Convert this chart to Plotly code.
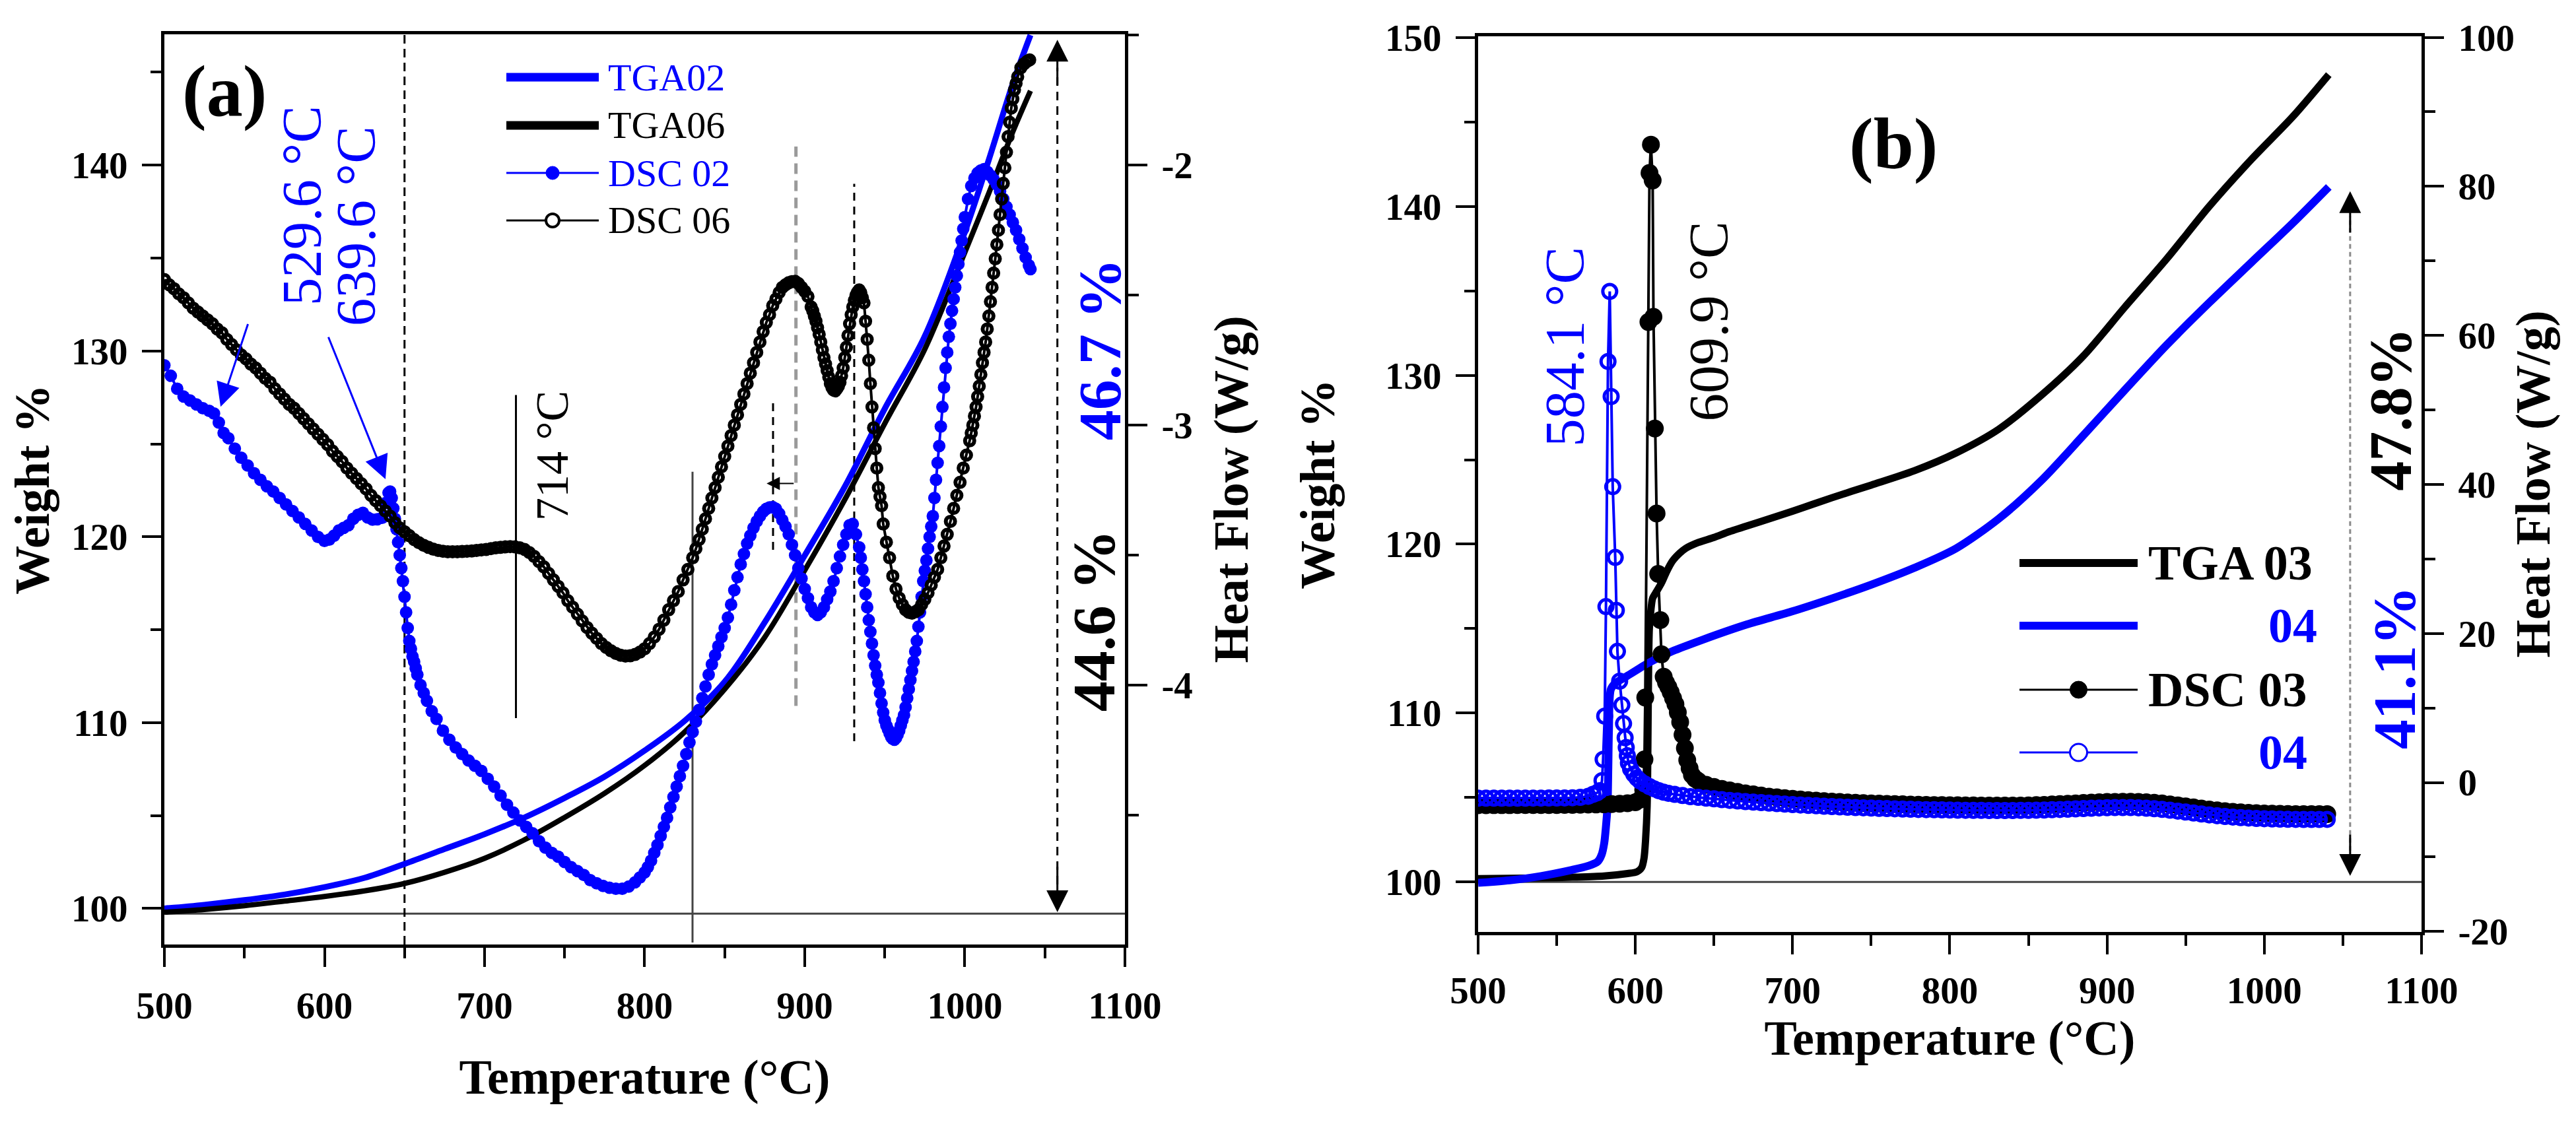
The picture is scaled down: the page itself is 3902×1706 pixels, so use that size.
import plotly.graph_objects as go

FONT = "Liberation Serif"
BLUE = "#0000ff"
BLACK = "#000000"

# ---------------- panel (a) data ----------------
a_tga02_T = [500, 525, 550, 575, 600, 625, 650, 675, 700, 725, 750, 775, 800, 825, 850, 875, 900, 925, 950, 975, 1000, 1015, 1030, 1041]
a_tga02_w = [100.0, 100.2, 100.45, 100.75, 101.15, 101.65, 102.4, 103.2, 104.0, 104.9, 105.95, 107.1, 108.5, 110.1, 112.2, 115.4, 119.0, 122.7, 126.9, 130.8, 136.4, 140.3, 144.4, 147.0]

a_tga06_T = [500, 525, 550, 575, 600, 625, 650, 675, 700, 725, 750, 775, 800, 825, 850, 875, 900, 925, 950, 975, 1000, 1015, 1030, 1041]
a_tga06_w = [99.8, 99.95, 100.15, 100.4, 100.65, 100.95, 101.35, 101.95, 102.7, 103.7, 104.9, 106.2, 107.7, 109.5, 111.8, 114.6, 118.2, 122.0, 126.1, 130.1, 135.3, 138.5, 141.8, 144.0]

a_dsc02_T = [500, 504, 508, 512, 516, 520, 524, 528, 531, 534, 537, 540, 544, 548, 552, 556, 560, 564, 568, 572,
             576, 580, 584, 588, 592, 596, 600, 603, 606, 609, 612, 615, 618, 621, 624, 627, 630, 633, 636, 638,
             640, 641, 642, 643, 644, 645, 646, 647, 648, 649, 650, 651, 652, 653, 654, 655, 656, 657, 658, 660,
             662, 664, 667, 670, 674, 678, 682, 686, 690, 694, 698, 702, 706, 710, 714, 718, 722, 726, 730, 734,
             738, 742, 746, 750, 754, 758, 762, 766, 770, 774, 778, 782, 786, 790, 794, 797, 800, 802, 804, 806,
             808, 810, 812, 814, 816, 818, 820, 822, 824, 826, 828, 830, 832, 834, 836, 838, 840, 842, 844, 846,
             848, 850, 852, 854, 856, 858, 860, 862, 864, 866, 868, 870, 872, 874, 876, 878, 880, 882, 884, 886,
             888, 890, 892, 894, 896, 898, 900, 902, 904, 906, 908, 910, 912, 914, 916, 918, 920, 922, 924, 926,
             928, 930, 932, 934, 935, 936, 937, 938, 939, 940, 941, 942, 943, 944, 945, 946, 947, 948, 949, 950,
             951, 952, 953, 954, 955, 956, 957, 958, 959, 960, 961, 962, 963, 964, 965, 966, 967, 968, 969, 970,
             971, 972, 973, 974, 975, 976, 977, 978, 979, 980, 981, 982, 983, 984, 985, 986, 987, 988, 989, 990,
             991, 992, 993, 994, 995, 996, 997, 998, 999, 1000, 1002, 1004, 1006, 1008, 1010, 1012, 1014, 1016, 1018, 1020,
             1022, 1024, 1026, 1028, 1030, 1032, 1034, 1036, 1038, 1040, 1041]
a_dsc02_hf = [-2.77, -2.81, -2.86, -2.89, -2.905, -2.92, -2.935, -2.945, -2.955, -2.99, -3.03, -3.05, -3.09, -3.125, -3.155, -3.185, -3.21, -3.235, -3.255, -3.28,
              -3.305, -3.33, -3.355, -3.38, -3.405, -3.43, -3.445, -3.44, -3.425, -3.405, -3.395, -3.385, -3.36, -3.345, -3.337, -3.355, -3.363, -3.362, -3.356, -3.30,
              -3.26, -3.255, -3.28, -3.32, -3.36, -3.40, -3.45, -3.50, -3.55, -3.60, -3.66, -3.72, -3.78, -3.83, -3.86, -3.89, -3.91, -3.935, -3.96, -4.00,
              -4.03, -4.06, -4.10, -4.13, -4.175, -4.21, -4.24, -4.265, -4.29, -4.31, -4.33, -4.36, -4.39, -4.425, -4.46, -4.49, -4.52, -4.545, -4.57, -4.60,
              -4.625, -4.645, -4.66, -4.68, -4.70, -4.715, -4.73, -4.75, -4.762, -4.772, -4.779, -4.783, -4.783, -4.775, -4.758, -4.74, -4.72, -4.70, -4.675, -4.645,
              -4.615, -4.58, -4.545, -4.51, -4.47, -4.43, -4.39, -4.35, -4.31, -4.265, -4.22, -4.18, -4.14, -4.095, -4.05, -4.005, -3.96, -3.92, -3.885, -3.85,
              -3.815, -3.78, -3.74, -3.69, -3.635, -3.585, -3.535, -3.495, -3.455, -3.425, -3.395, -3.37, -3.35, -3.333, -3.322, -3.316, -3.315, -3.322, -3.34, -3.365,
              -3.39, -3.42, -3.46, -3.50, -3.55, -3.59, -3.63, -3.665, -3.70, -3.72, -3.73, -3.72, -3.70, -3.67, -3.64, -3.60, -3.55, -3.505, -3.46, -3.42,
              -3.385, -3.38, -3.42, -3.47, -3.51, -3.555, -3.60, -3.65, -3.70, -3.75, -3.795, -3.84, -3.885, -3.925, -3.96, -3.99, -4.03, -4.07, -4.105, -4.135,
              -4.155, -4.17, -4.185, -4.20, -4.207, -4.21, -4.203, -4.19, -4.175, -4.155, -4.135, -4.115, -4.085, -4.05, -4.015, -3.98, -3.945, -3.91, -3.87, -3.83,
              -3.775, -3.72, -3.66, -3.60, -3.56, -3.52, -3.475, -3.43, -3.39, -3.35, -3.28, -3.21, -3.145, -3.08, -3.005, -2.93, -2.855, -2.78, -2.72, -2.66,
              -2.61, -2.56, -2.515, -2.47, -2.425, -2.38, -2.335, -2.29, -2.245, -2.20, -2.13, -2.08, -2.05, -2.03, -2.02, -2.015, -2.025, -2.04, -2.055, -2.075,
              -2.10, -2.13, -2.16, -2.19, -2.22, -2.25, -2.285, -2.32, -2.355, -2.385, -2.40]

a_dsc06_T = [500, 503, 506, 509, 512, 515, 518, 521, 524, 527, 530, 533, 536, 539, 542, 545, 548, 551, 554, 557,
             560, 563, 566, 569, 572, 575, 578, 581, 584, 587, 590, 593, 596, 599, 602, 605, 608, 611, 614, 617,
             620, 623, 626, 629, 632, 635, 638, 641, 644, 647, 650, 653, 656, 659, 662, 665, 668, 671, 674, 677,
             680, 683, 686, 689, 692, 695, 698, 701, 704, 707, 710, 713, 716, 719, 722, 725, 728, 731, 734, 737,
             740, 743, 746, 749, 752, 755, 758, 761, 764, 767, 770, 773, 776, 779, 782, 785, 788, 791, 794, 797,
             800, 803, 806, 809, 812, 815, 818, 821, 824, 827, 830, 832, 834, 836, 838, 840, 842, 844, 846, 848,
             850, 852, 854, 856, 858, 860, 862, 864, 866, 868, 870, 872, 874, 876, 878, 880, 882, 884, 886, 888,
             890, 892, 894, 896, 898, 900, 902, 904, 905, 906, 907, 908, 909, 910, 911, 912, 913, 914, 915, 916,
             917, 918, 919, 920, 921, 922, 923, 924, 925, 926, 927, 928, 929, 930, 931, 932, 933, 934, 935, 936,
             937, 938, 939, 940, 941, 942, 943, 944, 945, 946, 947, 948, 949, 951, 953, 955, 957, 959, 961, 963,
             965, 967, 969, 971, 973, 975, 977, 979, 981, 983, 985, 987, 989, 991, 993, 995, 997, 999, 1001, 1003,
             1004, 1005, 1006, 1007, 1008, 1009, 1010, 1011, 1012, 1013, 1014, 1015, 1016, 1017, 1018, 1019, 1020, 1021, 1022, 1023,
             1024, 1025, 1026, 1027, 1028, 1029, 1030, 1031, 1032, 1033, 1035, 1037, 1039, 1040.5]
a_dsc06_hf = [-2.44, -2.46, -2.475, -2.495, -2.51, -2.53, -2.55, -2.565, -2.58, -2.595, -2.61, -2.63, -2.645, -2.67, -2.69, -2.71, -2.73, -2.745, -2.765, -2.78,
              -2.80, -2.82, -2.835, -2.86, -2.88, -2.90, -2.92, -2.935, -2.955, -2.975, -2.995, -3.015, -3.035, -3.055, -3.075, -3.10, -3.12, -3.14, -3.165, -3.185,
              -3.205, -3.225, -3.245, -3.27, -3.29, -3.31, -3.33, -3.35, -3.375, -3.395, -3.41, -3.425, -3.44, -3.452, -3.462, -3.47, -3.477, -3.482, -3.485, -3.487,
              -3.487, -3.487, -3.486, -3.485, -3.484, -3.482, -3.48, -3.478, -3.475, -3.472, -3.47, -3.468, -3.467, -3.468, -3.472, -3.478, -3.49, -3.505, -3.525, -3.545,
              -3.57, -3.595, -3.62, -3.645, -3.675, -3.70, -3.727, -3.753, -3.778, -3.80, -3.82, -3.84, -3.855, -3.868, -3.878, -3.885, -3.888, -3.887, -3.882, -3.873,
              -3.86, -3.84, -3.815, -3.785, -3.75, -3.71, -3.675, -3.64, -3.595, -3.555, -3.51, -3.475, -3.44, -3.40, -3.36, -3.32, -3.28, -3.24, -3.20, -3.16,
              -3.12, -3.08, -3.04, -3.00, -2.96, -2.92, -2.88, -2.84, -2.80, -2.76, -2.72, -2.68, -2.64, -2.605, -2.575, -2.54, -2.515, -2.49, -2.47, -2.46,
              -2.452, -2.448, -2.447, -2.455, -2.47, -2.485, -2.505, -2.545, -2.56, -2.58, -2.60, -2.625, -2.65, -2.68, -2.71, -2.74, -2.765, -2.79, -2.815, -2.84,
              -2.855, -2.865, -2.868, -2.86, -2.85, -2.835, -2.81, -2.78, -2.74, -2.70, -2.655, -2.61, -2.575, -2.545, -2.52, -2.50, -2.488, -2.48, -2.49, -2.51,
              -2.53, -2.60, -2.67, -2.75, -2.84, -2.93, -3.01, -3.09, -3.165, -3.24, -3.275, -3.31, -3.38, -3.45, -3.51, -3.58, -3.63, -3.665, -3.69, -3.71,
              -3.72, -3.723, -3.718, -3.71, -3.69, -3.67, -3.645, -3.615, -3.585, -3.555, -3.51, -3.465, -3.42, -3.37, -3.32, -3.27, -3.22, -3.165, -3.115, -3.06,
              -3.03, -3.00, -2.965, -2.93, -2.89, -2.85, -2.805, -2.76, -2.72, -2.68, -2.63, -2.58, -2.525, -2.47, -2.415, -2.36, -2.305, -2.25, -2.19, -2.13,
              -2.07, -2.01, -1.95, -1.89, -1.835, -1.78, -1.745, -1.71, -1.685, -1.66, -1.625, -1.61, -1.60, -1.595]

# ---------------- panel (b) data ----------------
b_tga03_T = [500, 520, 540, 560, 580, 595, 601, 604, 605.5, 606.5, 607.5, 608.2, 608.9, 610, 611, 613.5, 616.6, 620, 623.6, 628,
             632, 640, 650, 660, 680, 700, 725, 750, 777.5, 804, 831, 858, 885, 911, 938, 965, 992, 1018, 1041]
b_tga03_w = [100.2, 100.22, 100.24, 100.28, 100.35, 100.5, 100.6, 100.85, 101.4, 102.5, 104.5, 110.5, 115.0, 116.2, 116.8, 117.2, 117.7, 118.4, 119.0, 119.45,
             119.75, 120.1, 120.4, 120.75, 121.35, 121.95, 122.75, 123.5, 124.35, 125.4, 126.8, 128.8, 131.15, 134.0, 136.9, 140.0, 142.8, 145.3, 147.8]

b_tga04_T = [500, 520, 540, 559, 570, 576, 578.5, 580.2, 581.5, 582.3, 582.8, 583.2, 584.4, 587, 594, 608, 622, 643, 671, 699,
             727, 750, 777.5, 804, 831, 858, 885, 911, 938, 965, 992, 1018, 1041]
b_tga04_w = [99.95, 100.1, 100.35, 100.7, 100.95, 101.2, 101.6, 102.3, 103.5, 104.5, 106.8, 109.0, 111.4, 111.75, 112.15, 112.95, 113.6, 114.35, 115.25, 116.0,
             116.85, 117.6, 118.6, 119.75, 121.5, 123.75, 126.45, 129.1, 131.8, 134.3, 136.7, 139.0, 141.15]

b_dsc03_T = [500, 505, 510, 515, 520, 525, 530, 535, 540, 545, 550, 555, 560, 565, 570, 575, 580, 585, 590, 595,
             600, 603, 605, 605.8, 606.3, 608.3, 609, 609.9, 611, 611.5, 612.4, 613.5, 614.5, 615.9, 616.6, 618, 619.5, 621, 622.5, 624,
             625.5, 627, 628.5, 630, 631.5, 633, 634.5, 636, 638, 640, 645, 650, 655, 660, 665, 670, 675, 680, 685, 690,
             695, 700, 705, 710, 715, 720, 725, 730, 735, 740, 745, 750, 755, 760, 765, 770, 775, 780, 785, 790,
             795, 800, 805, 810, 815, 820, 825, 830, 835, 840, 845, 850, 855, 860, 865, 870, 875, 880, 885, 890,
             895, 900, 905, 910, 915, 920, 925, 930, 935, 940, 945, 950, 955, 960, 965, 970, 975, 980, 985, 990,
             995, 1000, 1005, 1010, 1015, 1020, 1025, 1030, 1035, 1040]
b_dsc03_hf = [-3.05, -3.05, -3.04, -3.04, -3.04, -3.03, -3.03, -3.03, -3.02, -3.02, -3.02, -3.01, -3.0, -2.98, -2.97, -2.95, -2.93, -2.9, -2.85, -2.78,
              -2.65, -2.3, -1.0, 3.1, 11.4, 61.8, 81.8, 85.6, 80.8, 62.5, 47.5, 36.1, 28.0, 21.8, 17.2, 14.2, 13.4, 12.8, 12.1, 11.3,
              10.5, 9.4, 8.1, 6.4, 4.6, 3.0, 1.9, 1.0, 0.5, 0.2, -0.3, -0.6, -0.85, -1.05, -1.25, -1.45, -1.6, -1.75, -1.9, -2.0,
              -2.1, -2.2, -2.28, -2.36, -2.43, -2.5, -2.56, -2.62, -2.67, -2.72, -2.76, -2.8, -2.84, -2.87, -2.9, -2.93, -2.96, -2.98, -3.0, -3.02,
              -3.03, -3.05, -3.06, -3.07, -3.08, -3.09, -3.1, -3.1, -3.1, -3.1, -3.09, -3.07, -3.04, -3.0, -2.95, -2.9, -2.85, -2.8, -2.75, -2.7,
              -2.66, -2.62, -2.6, -2.58, -2.58, -2.6, -2.65, -2.72, -2.82, -2.94, -3.07, -3.21, -3.35, -3.49, -3.62, -3.74, -3.85, -3.94, -4.01, -4.07,
              -4.12, -4.16, -4.19, -4.21, -4.23, -4.24, -4.25, -4.25, -4.25, -4.24]

b_dsc04_T = [500, 505, 510, 515, 520, 525, 530, 535, 540, 545, 550, 555, 560, 565, 570, 573, 575.5, 577.4, 578.8, 579.5,
             580.5, 581.3, 582.6, 583.7, 584.6, 585.6, 587.2, 587.9, 588.6, 590, 591.4, 592.5, 593.5, 594.2, 594.9, 595.6, 597, 599, 601, 603,
             606, 609, 612, 615, 618, 621, 625, 630, 635, 640, 645, 650, 655, 660, 665, 670, 675, 680, 685, 690,
             695, 700, 705, 710, 715, 720, 725, 730, 735, 740, 745, 750, 755, 760, 765, 770, 775, 780, 785, 790,
             795, 800, 805, 810, 815, 820, 825, 830, 835, 840, 845, 850, 855, 860, 865, 870, 875, 880, 885, 890,
             895, 900, 905, 910, 915, 920, 925, 930, 935, 940, 945, 950, 955, 960, 965, 970, 975, 980, 985, 990,
             995, 1000, 1005, 1010, 1015, 1020, 1025, 1030, 1035, 1040]
b_dsc04_hf = [-2.1, -2.1, -2.1, -2.1, -2.1, -2.1, -2.1, -2.09, -2.09, -2.08, -2.08, -2.07, -2.05, -2.0, -1.85, -1.6, -1.4, -1.1, 0.25, 3.1,
              8.9, 23.6, 56.5, 65.9, 51.8, 39.7, 30.2, 23.1, 17.6, 13.6, 10.4, 7.9, 6.0, 4.7, 3.6, 2.6, 1.8, 1.1, 0.6, 0.2,
              -0.2, -0.55, -0.85, -1.1, -1.3, -1.45, -1.6, -1.75, -1.9, -2.0, -2.1, -2.2, -2.3, -2.4, -2.48, -2.56, -2.63, -2.7, -2.77, -2.84,
              -2.9, -2.96, -3.02, -3.08, -3.13, -3.18, -3.23, -3.28, -3.32, -3.36, -3.4, -3.44, -3.47, -3.5, -3.53, -3.56, -3.59, -3.62, -3.64, -3.66,
              -3.68, -3.7, -3.72, -3.73, -3.74, -3.75, -3.76, -3.76, -3.76, -3.76, -3.75, -3.74, -3.72, -3.69, -3.66, -3.62, -3.58, -3.54, -3.5, -3.46,
              -3.42, -3.39, -3.37, -3.36, -3.37, -3.4, -3.45, -3.52, -3.61, -3.72, -3.84, -3.97, -4.1, -4.23, -4.35, -4.46, -4.56, -4.64, -4.71, -4.77,
              -4.82, -4.86, -4.89, -4.92, -4.94, -4.95, -4.96, -4.96, -4.96, -4.95]

# ---------------- ticks ----------------
x_tickvals = [500, 600, 700, 800, 900, 1000, 1100]
x_ticktext = ["500", "600", "700", "800", "900", "1000", "1100"]
a_w_tickvals = [100, 110, 120, 130, 140]
a_w_ticktext = ["100", "110", "120", "130", "140"]
a_hf_tickvals = [-5, -4, -3, -2]
a_hf_ticktext = ["-5", "-4", "-3", "-2"]
b_w_tickvals = [100, 110, 120, 130, 140, 150]
b_w_ticktext = ["100", "110", "120", "130", "140", "150"]
b_hf_tickvals = [-20, 0, 20, 40, 60, 80, 100]
b_hf_ticktext = ["-20", "0", "20", "40", "60", "80", "100"]

# ---------------- reference marks (data units) ----------------
a_base_w = 99.72
a_onset_T = 650
a_vguides = [  # (T, w_from, w_to, color, width, dash)
    (894.5, 110.9, 141.0, "#9a9a9a", 5, "16px,10px"),
    (930.9, 109.0, 139.0, BLACK, 3, "12px,9px"),
    (880.2, 119.3, 127.4, BLACK, 3, "12px,9px"),
]
a_vsolid = [(719.6, 110.25, 127.63, BLACK), (829.9, 98.17, 123.5, "#444444")]
a_span_T, a_span_lo, a_span_hi = 1057.8, 99.8, 146.75
b_base_w = 100.0
b_span_T, b_span_lo, b_span_hi = 1054.6, 100.36, 140.9

# ---------------- page geometry ----------------
WP, HP = 3886, 1690
ML, MR, MT, MB = 241, 226, 44, 267


def px(ox):
    return (ox - 8 - ML) / (WP - ML - MR)


def py(oy):
    return (HP - MB - (oy - 8)) / (HP - MT - MB)


fig = go.Figure()

# panel (a) traces
fig.add_trace(go.Scatter(x=a_tga02_T, y=a_tga02_w, mode="lines", xaxis="x", yaxis="y",
                         line=dict(color=BLUE, width=9, shape="spline"), name="TGA02"))
fig.add_trace(go.Scatter(x=a_tga06_T, y=a_tga06_w, mode="lines", xaxis="x", yaxis="y",
                         line=dict(color=BLACK, width=8, shape="spline"), name="TGA06"))
fig.add_trace(go.Scatter(x=a_dsc02_T, y=a_dsc02_hf, mode="lines+markers", xaxis="x", yaxis="y2",
                         line=dict(color=BLUE, width=4),
                         marker=dict(symbol="circle", size=19, color=BLUE, line=dict(width=0)), name="DSC 02"))
fig.add_trace(go.Scatter(x=a_dsc06_T, y=a_dsc06_hf, mode="lines+markers", xaxis="x", yaxis="y2",
                         line=dict(color=BLACK, width=4),
                         marker=dict(symbol="circle-open", size=14, color=BLACK, line=dict(width=6, color=BLACK)),
                         name="DSC 06"))

# panel (b) traces
fig.add_trace(go.Scatter(x=b_tga03_T, y=b_tga03_w, mode="lines", xaxis="x2", yaxis="y3",
                         line=dict(color=BLACK, width=11, shape="spline", smoothing=0.8), name="TGA 03"))
fig.add_trace(go.Scatter(x=b_tga04_T, y=b_tga04_w, mode="lines", xaxis="x2", yaxis="y3",
                         line=dict(color=BLUE, width=12, shape="spline", smoothing=0.8), name="TGA 04"))
fig.add_trace(go.Scatter(x=b_dsc03_T, y=b_dsc03_hf, mode="lines+markers", xaxis="x2", yaxis="y4",
                         line=dict(color=BLACK, width=4),
                         marker=dict(symbol="circle", size=27, color=BLACK, line=dict(width=0)), name="DSC 03"))
fig.add_trace(go.Scatter(x=b_dsc04_T, y=b_dsc04_hf, mode="lines+markers", xaxis="x2", yaxis="y4",
                         line=dict(color=BLUE, width=4),
                         marker=dict(symbol="circle-open", size=21, color=BLUE, line=dict(width=5, color=BLUE)),
                         name="DSC 04"))

tickfont = dict(family=FONT, size=57, color=BLACK, weight="bold")
titlefont = dict(family=FONT, size=74, color=BLACK, weight="bold")
common_axis = dict(showline=True, linecolor=BLACK, linewidth=5, ticks="outside", ticklen=29, tickwidth=4,
                   tickcolor=BLACK, showgrid=False, zeroline=False, tickfont=tickfont, automargin=False)

fig.update_layout(
    width=WP, height=HP, margin=dict(l=ML, r=MR, t=MT, b=MB),
    paper_bgcolor="white", plot_bgcolor="white", showlegend=False,
    font=dict(family=FONT, color=BLACK),
    xaxis=dict(**common_axis, domain=[0, 0.42556], range=[500, 1100], anchor="y", mirror=True,
               tickvals=x_tickvals, ticktext=x_ticktext, ticklabelstandoff=10,
               minor=dict(ticks="outside", ticklen=16, tickwidth=4, tickcolor=BLACK, dtick=50, tick0=500),
               title=dict(text="Temperature (°C)", font=titlefont, standoff=52)),
    yaxis=dict(**common_axis, domain=[0, 1], range=[98.064, 147.04], anchor="x",
               tickvals=a_w_tickvals, ticktext=a_w_ticktext, ticklabelstandoff=10,
               minor=dict(ticks="outside", ticklen=16, tickwidth=4, tickcolor=BLACK, dtick=5, tick0=100),
               title=dict(text="Weight %", font=titlefont, standoff=22)),
    yaxis2=dict(**common_axis, overlaying="y", side="right", anchor="x", range=[-4.9975, -1.4966],
                tickvals=a_hf_tickvals, ticktext=a_hf_ticktext, ticklabelstandoff=10,
                minor=dict(ticks="outside", ticklen=16, tickwidth=4, tickcolor=BLACK, dtick=0.5, tick0=-5),
                title=dict(text="Heat Flow (W/g)", font=titlefont, standoff=34)),
    xaxis2=dict(**common_axis, domain=[0.58204, 1.0], range=[500, 1100], anchor="y3", mirror=True,
                tickvals=x_tickvals, ticktext=x_ticktext, ticklabelstandoff=6,
                minor=dict(ticks="outside", ticklen=16, tickwidth=4, tickcolor=BLACK, dtick=50, tick0=500),
                title=dict(text="Temperature (°C)", font=titlefont, standoff=0)),
    yaxis3=dict(**common_axis, domain=[0.01378, 0.99782], range=[97.04, 150.07], anchor="x2",
                tickvals=b_w_tickvals, ticktext=b_w_ticktext, ticklabelstandoff=10,
                minor=dict(ticks="outside", ticklen=16, tickwidth=4, tickcolor=BLACK, dtick=5, tick0=100),
                title=dict(text="Weight %", font=titlefont, standoff=54)),
    yaxis4=dict(**common_axis, overlaying="y3", side="right", anchor="x2", range=[-20.06, 100.14],
                tickvals=b_hf_tickvals, ticktext=b_hf_ticktext, ticklabelstandoff=10,
                minor=dict(ticks="outside", ticklen=16, tickwidth=4, tickcolor=BLACK, dtick=10, tick0=-20),
                title=dict(text="Heat Flow (W/g)", font=titlefont, standoff=4)),
)

shapes = []
# panel (a) reference lines
shapes.append(dict(type="line", xref="x domain", yref="y", x0=0, x1=1, y0=a_base_w, y1=a_base_w,
                   line=dict(color="#444444", width=3), layer="below"))
shapes.append(dict(type="line", xref="x", yref="y domain", x0=a_onset_T, x1=a_onset_T, y0=0, y1=1,
                   line=dict(color=BLACK, width=3, dash="13px,8px"), layer="below"))
for t, w0, w1, col, wd, dsh in a_vguides:
    shapes.append(dict(type="line", xref="x", yref="y", x0=t, x1=t, y0=w0, y1=w1,
                       line=dict(color=col, width=wd, dash=dsh), layer="below"))
for t, w0, w1, col in a_vsolid:
    shapes.append(dict(type="line", xref="x", yref="y", x0=t, x1=t, y0=w0, y1=w1,
                       line=dict(color=col, width=3), layer="below"))
shapes.append(dict(type="line", xref="x", yref="y", x0=a_span_T, x1=a_span_T, y0=a_span_lo + 1.5, y1=a_span_hi - 1.5,
                   line=dict(color=BLACK, width=3, dash="13px,9px")))
# panel (b) reference lines
shapes.append(dict(type="line", xref="x2 domain", yref="y3", x0=0, x1=1, y0=b_base_w, y1=b_base_w,
                   line=dict(color="#444444", width=3), layer="below"))
shapes.append(dict(type="line", xref="x2", yref="y3", x0=b_span_T, x1=b_span_T, y0=b_span_lo + 1.5, y1=b_span_hi - 1.5,
                   line=dict(color="#8a8a8a", width=3, dash="7px,5px")))

# legends (drawn)
leg_a = [("TGA02", BLUE, "thick"), ("TGA06", BLACK, "thick"), ("DSC 02", BLUE, "dot"), ("DSC 06", BLACK, "ring")]
leg_a_rows = [117, 190, 262, 334]
leg_b = [("TGA 03", BLACK, "thick", "left"), ("04", BLUE, "thick", "right"),
         ("DSC 03", BLACK, "dot", "left"), ("04", BLUE, "ring", "right")]
leg_b_rows = [853, 948, 1045, 1140]

annotations = []


def legend_sample(x0, x1, yy, col, kind, thick_w, thin_w, dot_r, ring_w):
    if kind == "thick":
        shapes.append(dict(type="line", xref="paper", yref="paper", x0=px(x0), x1=px(x1), y0=py(yy), y1=py(yy),
                           line=dict(color=col, width=thick_w)))
    else:
        shapes.append(dict(type="line", xref="paper", yref="paper", x0=px(x0), x1=px(x1), y0=py(yy), y1=py(yy),
                           line=dict(color=col, width=thin_w)))
        cx = px((x0 + x1) / 2)
        if kind == "dot":
            shapes.append(dict(type="circle", xref="paper", yref="paper", xsizemode="pixel", ysizemode="pixel",
                               xanchor=cx, yanchor=py(yy), x0=-dot_r, x1=dot_r, y0=-dot_r, y1=dot_r,
                               fillcolor=col, line=dict(color=col, width=1)))
        else:
            shapes.append(dict(type="circle", xref="paper", yref="paper", xsizemode="pixel", ysizemode="pixel",
                               xanchor=cx, yanchor=py(yy), x0=-dot_r, x1=dot_r, y0=-dot_r, y1=dot_r,
                               fillcolor="white", line=dict(color=col, width=ring_w)))


for (txt, col, kind), yy in zip(leg_a, leg_a_rows):
    legend_sample(767, 907, yy, col, kind, 13, 3, 10, 4)
    annotations.append(dict(xref="paper", yref="paper", x=px(919), y=py(yy), xanchor="left", yanchor="middle",
                            text=txt, showarrow=False, font=dict(family=FONT, size=58, color=col)))

for (txt, col, kind, side), yy in zip(leg_b, leg_b_rows):
    legend_sample(3059, 3238, yy, col, kind, 12, 3, 13, 3)
    if side == "left":
        annotations.append(dict(xref="paper", yref="paper", x=px(3252), y=py(yy), xanchor="left", yanchor="middle",
                                text=txt, showarrow=False,
                                font=dict(family=FONT, size=74, color=col, weight="bold")))
    else:
        annotations.append(dict(xref="paper", yref="paper", x=px(3512 if yy < 1000 else 3497), y=py(yy),
                                xanchor="right", yanchor="middle", text=txt, showarrow=False,
                                font=dict(family=FONT, size=74, color=col, weight="bold")))

# text labels panel (a)
annotations += [
    dict(xref="x", yref="y", x=537.7, y=144.0, text="(a)", showarrow=False,
         font=dict(family=FONT, size=110, color=BLACK, weight="bold")),
    dict(xref="x", yref="y", x=585.8, y=137.8, text="529.6 °C", textangle=-90, showarrow=False,
         font=dict(family=FONT, size=85, color=BLUE)),
    dict(xref="x", yref="y", x=619.6, y=136.7, text="639.6 °C", textangle=-90, showarrow=False,
         font=dict(family=FONT, size=85, color=BLUE)),
    dict(xref="x", yref="y", x=742.5, y=124.35, text="714 °C", textangle=-90, showarrow=False,
         font=dict(family=FONT, size=70, color=BLACK)),
    dict(xref="x", yref="y", x=1080.7, y=115.5, text="44.6 %", textangle=-90, showarrow=False,
         font=dict(family=FONT, size=92, color=BLACK, weight="bold")),
    dict(xref="x", yref="y", x=1084.5, y=130.1, text="46.7 %", textangle=-90, showarrow=False,
         font=dict(family=FONT, size=92, color=BLUE, weight="bold")),
    # arrows
    dict(xref="x", yref="y", x=535.1, y=127.0, ax=552.4, ay=131.5, axref="x", ayref="y", text="",
         showarrow=True, arrowhead=2, arrowsize=2.4, arrowwidth=3, arrowcolor=BLUE),
    dict(xref="x", yref="y", x=638.1, y=123.1, ax=602.2, ay=130.8, axref="x", ayref="y", text="",
         showarrow=True, arrowhead=2, arrowsize=2.4, arrowwidth=3, arrowcolor=BLUE),
    dict(xref="x", yref="y", x=876.2, y=122.87, ax=893.7, ay=122.87, axref="x", ayref="y", text="",
         showarrow=True, arrowhead=2, arrowsize=2.0, arrowwidth=2, arrowcolor=BLACK),
    dict(xref="x", yref="y", x=a_span_T, y=a_span_hi, ax=a_span_T, ay=a_span_hi - 2.5, axref="x", ayref="y",
         text="", showarrow=True, arrowhead=2, arrowsize=2.2, arrowwidth=3, arrowcolor=BLACK),
    dict(xref="x", yref="y", x=a_span_T, y=a_span_lo, ax=a_span_T, ay=a_span_lo + 2.5, axref="x", ayref="y",
         text="", showarrow=True, arrowhead=2, arrowsize=2.2, arrowwidth=3, arrowcolor=BLACK),
]

# text labels panel (b)
annotations += [
    dict(xref="x2", yref="y3", x=764.1, y=143.7, text="(b)", showarrow=False,
         font=dict(family=FONT, size=110, color=BLACK, weight="bold")),
    dict(xref="x2", yref="y3", x=555.0, y=131.7, text="584.1 °C", textangle=-90, showarrow=False,
         font=dict(family=FONT, size=85, color=BLUE)),
    dict(xref="x2", yref="y3", x=646.5, y=133.2, text="609.9 °C", textangle=-90, showarrow=False,
         font=dict(family=FONT, size=85, color=BLACK)),
    dict(xref="x2", yref="y3", x=1080.7, y=128.0, text="47.8%", textangle=-90, showarrow=False,
         font=dict(family=FONT, size=90, color=BLACK, weight="bold")),
    dict(xref="x2", yref="y3", x=1082.8, y=112.7, text="41.1%", textangle=-90, showarrow=False,
         font=dict(family=FONT, size=90, color=BLUE, weight="bold")),
    dict(xref="x2", yref="y3", x=b_span_T, y=b_span_hi, ax=b_span_T, ay=b_span_hi - 2.5, axref="x2", ayref="y3",
         text="", showarrow=True, arrowhead=2, arrowsize=2.2, arrowwidth=3, arrowcolor=BLACK),
    dict(xref="x2", yref="y3", x=b_span_T, y=b_span_lo, ax=b_span_T, ay=b_span_lo + 2.5, axref="x2", ayref="y3",
         text="", showarrow=True, arrowhead=2, arrowsize=2.2, arrowwidth=3, arrowcolor=BLACK),
]

fig.update_layout(shapes=shapes, annotations=annotations)
fig.write_html("out.html")
